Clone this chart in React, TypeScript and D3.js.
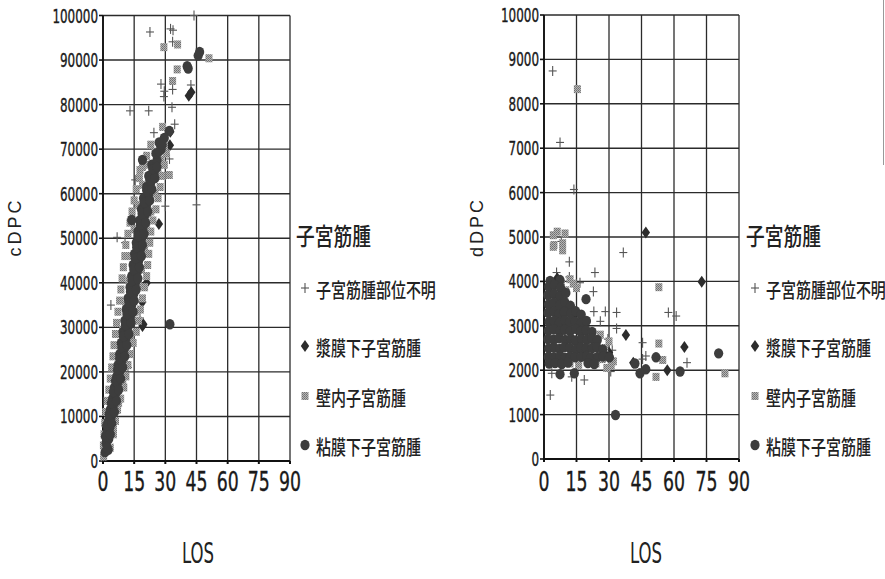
import React from "react";
import * as d3 from "d3";

// ---------------- DATA ----------------
const xTicks = [0, 15, 30, 45, 60, 75, 90];
const yTicksC = [0, 10000, 20000, 30000, 40000, 50000, 60000, 70000, 80000, 90000, 100000];
const yTicksD = [0, 1000, 2000, 3000, 4000, 5000, 6000, 7000, 8000, 9000, 10000];
const seriesNames = ["子宮筋腫部位不明", "漿膜下子宮筋腫", "壁内子宮筋腫", "粘膜下子宮筋腫"];
const legendTitle = "子宮筋腫";
const xTitle = "LOS";
const yTitleC = "cDPC";
const yTitleD = "dDPC";

// cDPC vs LOS  [LOS, cDPC]
const cUnknown = [
  [22.6, 96300], [33.7, 96700], [32.5, 97000], [33.5, 94100], [43.8, 100000], [27.9, 84600], [29.5, 83000],
  [29.3, 81800], [33.5, 83400], [42.3, 84400], [13, 78600], [22, 78600], [33.2, 79400], [24.5, 73700],
  [34.5, 75600], [32, 67800], [20.2, 68300], [15.5, 63100], [20.5, 62700], [30, 57200], [45, 57500],
  [6.8, 50200], [10.6, 49000], [3.8, 35000], [1.8, 2900], [11.4, 22300], [17.8, 32100],
  [1, 1500], [3.5, 9500], [6, 16500], [9, 24000], [11.5, 31000], [14, 37500], [16, 44000], [18.5, 49500],
  [21.5, 55000], [24, 59500], [12, 21000], [15, 32000],
];
const cSubserosal = [
  [41.3, 82000], [42.5, 82800], [26.9, 53200], [32.4, 73900], [32.2, 70900], [18.9, 35700], [19, 30300],
  [21, 40000], [19.4, 30700],
  [2.5, 6500], [5, 12000], [8, 19500], [10.5, 27000], [13, 34000], [15.5, 41500], [17.5, 47000],
  [19.5, 52000], [21, 57000], [23, 61500], [25, 66000], [7, 14500], [12, 30000], [16, 38500],
];
const cIntramural = [
  [29.3, 92900], [35.9, 93500], [35.7, 87900], [33.5, 85300], [51, 90400], [28.7, 75000], [29.5, 70500],
  [17.8, 65300], [31.9, 64200], [13.6, 54100], [25, 69400], [27.7, 67600],
  [0.3, 1000], [0.2, 3500], [0.5, 6000], [0.8, 8500], [1.3, 11000], [2, 13500], [2.8, 16000], [3.5, 18500],
  [4.2, 21000], [4.8, 23500], [5.3, 26000], [6, 28500], [6.5, 31000], [7.2, 33500], [8, 36000], [8.6, 38500],
  [9.2, 41000], [9.8, 43500], [10.5, 46000], [11, 48500], [12, 51000], [13, 53500], [14, 56000], [15, 58500],
  [16, 61000], [17.5, 63500], [19, 66000], [21, 68500], [23, 71000],
  [3.5, 3000], [5, 6000], [6, 9000], [7, 11500], [8.5, 14000], [10, 16500], [11, 19000], [12, 21500],
  [13, 24000], [14.5, 26500], [16, 29000], [17, 31500], [18, 34000], [19, 36500], [20, 39000], [21, 41500],
  [21.5, 44000], [22, 46500], [22.5, 49000], [23, 51500], [24, 54000], [25.5, 56500], [26.5, 59000],
  [27.5, 61500], [28.5, 64000], [29.5, 66500], [30.5, 69000],
  [2, 5000], [4, 11000], [6, 17000], [8, 23000], [9.5, 29500], [11, 35000], [12.5, 40500], [13.5, 46000],
  [15, 52000], [17, 57500], [19, 62000], [21.5, 66500], [5, 7500], [7.5, 13000], [9.5, 18000], [11, 24500],
  [13, 28000], [15.5, 33500], [17, 39500], [18.5, 43000], [20, 47500], [21, 52500], [23, 56000], [25, 60000],
  [26.5, 64500],
];
const cSubmucosal = [
  [45.8, 91000], [46.5, 91800], [41, 88100], [40.5, 88600], [19, 67600], [31.9, 74100], [24.5, 64600],
  [21, 60800], [19.7, 57500], [13.8, 54100], [32.2, 30700],
  [1, 2000], [2.5, 2500], [1.5, 4000], [2.8, 5000], [2, 6500], [3.3, 7500], [2.6, 9000], [4, 10000],
  [3.5, 11500], [5, 12500], [4.6, 14000], [6, 15000], [5.5, 16500], [7, 17500], [6.6, 19000], [8, 20000],
  [7.2, 21500], [9, 22500], [8, 24000], [10, 25000], [8.8, 26500], [11, 27500], [9.6, 29000], [12, 30000],
  [10.5, 31500], [13, 32500], [11.2, 34000], [13.8, 35000], [12, 36500], [14.8, 37500], [13, 39000],
  [15.6, 40000], [13.8, 41500], [16.5, 42500], [14.5, 44000], [17.2, 45000], [15.2, 46500], [18, 47500],
  [16, 49000], [18.6, 50000], [16.8, 51500], [19.3, 52500], [17.6, 54000], [20, 55000], [18.5, 56500],
  [21, 57500], [19.5, 59000], [22, 60000], [21, 61500], [23, 62500], [22, 64000], [24.5, 65000],
  [23.5, 66500], [26, 67500], [25.5, 69000], [28, 70000], [27, 71500], [29.5, 72500],
  [2, 3000], [1.2, 5500], [3.5, 6000], [1.8, 8000], [4.2, 8500], [3, 10500], [5.5, 11000], [4, 13000],
  [6.5, 13500], [5, 15500], [7.5, 16000], [6, 18000], [8.5, 18500], [7, 20500], [9.5, 21000], [8, 23000],
  [10.5, 23500], [9, 25500], [11.5, 26000], [9.8, 28000], [12.5, 28500], [10.8, 30500], [13.5, 31000],
  [11.5, 33000], [14.5, 33500], [12.5, 35500], [15, 36000], [13.2, 38000], [16, 38500], [14, 40500],
  [16.8, 41000], [14.8, 43000], [17.5, 43500], [15.5, 45500], [18.5, 46000], [16.2, 48000], [19, 48500],
  [17, 50500], [19.8, 51000], [18, 53000], [20.5, 53500], [18.8, 55500], [21.5, 56000], [20, 58000],
  [22.5, 58500], [21.5, 60500], [23.5, 61000], [22.8, 63000], [25, 63500], [24, 65500], [26, 66000],
  [27, 69500], [28.5, 71000],
];

// dDPC vs LOS  [LOS, dDPC]
const dUnknown = [
  [4, 8740], [7.4, 7130], [13.8, 6070], [36.6, 4650], [11.7, 4440], [23.5, 4200], [5.8, 4200], [11.7, 4100],
  [22.8, 3770], [16.6, 3970], [23, 3320], [28.3, 3320], [33.5, 3300], [33.5, 2940], [57.4, 3300], [61, 3220],
  [45.5, 2620], [47, 2320], [45.5, 2250], [66, 2170], [2.9, 1440], [18.6, 1780], [12.8, 1850], [30.8, 1970],
  [3.6, 1930], [29.5, 2700], [31.5, 2450], [26, 3100], [8, 4900],
];
const dSubserosal = [
  [47, 5100], [72.8, 3990], [37.8, 2790], [64.8, 2520], [56.9, 2000], [41.2, 2170], [6.1, 4070],
  [10, 3500], [14, 3250], [22, 2700], [30, 2400], [5, 3000], [18, 2400],
];
const dIntramural = [
  [15.4, 8330], [6.1, 5120], [4.3, 5040], [9.7, 5080], [8.6, 4860], [4.3, 4780], [4.6, 4820], [8.6, 4700],
  [53, 3870], [53, 2600], [54.8, 2230], [51.7, 1850], [83.5, 1930],
  [13.5, 3950], [12, 4050], [15, 3850], [8, 3950], [10, 3800], [12, 2150], [16, 2120], [20, 2180], [24, 2150],
  [27, 2250], [28, 2500], [30, 2650], [32, 2200], [31, 2100], [29, 2050], [26, 2800], [24, 2600],
];
const dSubmucosal = [
  [19.4, 3600], [51.7, 2290], [80.6, 2380], [62.8, 1970], [47, 2020], [44.3, 1930], [42, 2150], [33, 990],
  [7.4, 1910], [14, 1930], [2.8, 4010], [7.4, 4030],
  [2.2, 3880], [4.8, 3920], [7.6, 3860],
  [1.8, 3690], [4.6, 3720], [7.2, 3660], [10.1, 3740],
  [2.1, 3480], [4.4, 3520], [7.3, 3470], [9.6, 3530], [12.2, 3450],
  [1.9, 3290], [4.7, 3320], [6.8, 3260], [9.4, 3310], [12.3, 3280], [14.6, 3330], [17.2, 3250],
  [2.3, 3090], [4.5, 3110], [7.1, 3070], [9.7, 3120], [11.8, 3080], [14.4, 3100], [17.1, 3060], [19.6, 3110],
  [2.0, 2890], [4.6, 2920], [7.3, 2870], [9.5, 2910], [12.1, 2880], [14.7, 2930], [16.9, 2870], [19.4, 2900], [22.2, 2860],
  [1.8, 2700], [4.4, 2690], [7.0, 2720], [9.8, 2680], [12.4, 2710], [14.5, 2670], [17.3, 2700], [19.8, 2690], [22.1, 2720], [24.6, 2680],
  [2.2, 2490], [4.7, 2510], [7.2, 2480], [9.4, 2520], [11.9, 2500], [14.8, 2470], [17.0, 2510], [19.5, 2490], [22.3, 2500], [24.4, 2520], [27.1, 2460],
  [2.0, 2300], [4.5, 2290], [7.4, 2320], [9.7, 2280], [12.2, 2310], [14.3, 2290], [17.2, 2300], [19.7, 2320], [21.8, 2280], [24.7, 2300], [27.3, 2310], [30.2, 2290],
  [2.4, 2150], [5.1, 2160], [8.2, 2140], [11.1, 2170], [20.3, 2160], [23.2, 2140],
];

// ---------------- DRAWING ----------------
const GRID = "#2b2b2b";
const NARROW = "'Liberation Sans Narrow', 'DejaVu Sans Condensed', 'Arial Narrow', sans-serif";
const CJK = "'Noto Sans CJK JP', 'Noto Sans CJK SC', sans-serif";

type Pt = number[];

function Marker({ kind, x, y }: { kind: number; x: number; y: number }) {
  if (kind === 0)
    return (
      <g stroke="#555" strokeWidth={1.1}>
        <line x1={x - 4} x2={x + 4} y1={y} y2={y} />
        <line x1={x} x2={x} y1={y - 5} y2={y + 5} />
      </g>
    );
  if (kind === 1)
    return <polygon points={`${x},${y - 6} ${x + 4.2},${y} ${x},${y + 6} ${x - 4.2},${y}`} fill="#2c2c2c" />;
  if (kind === 2) return <rect x={x - 3.5} y={y - 4} width={7} height={8} fill="url(#hatch)" />;
  return <ellipse cx={x} cy={y} rx={4.6} ry={5.2} fill="#3d3d3d" />;
}

function Panel({
  x0, x1, y0, y1, yMax, yTicks, series, yTitle, titleX, labelRight, losX, legendX,
}: {
  x0: number; x1: number; y0: number; y1: number; yMax: number; yTicks: number[]; series: Pt[][];
  yTitle: string; titleX: number; labelRight: number; losX: number; legendX: number;
}) {
  const x = d3.scaleLinear().domain([0, 90]).range([x0, x1]);
  const y = d3.scaleLinear().domain([0, yMax]).range([y0, y1]);
  const legendY = [291, 349, 399, 448];
  return (
    <g>
      {/* grid */}
      {yTicks.map((t) => (
        <line key={"h" + t} x1={x0} x2={x1} y1={y(t)} y2={y(t)} stroke={GRID} strokeWidth={1.4} />
      ))}
      {xTicks.map((t) => (
        <line key={"v" + t} x1={x(t)} x2={x(t)} y1={y0} y2={y1} stroke={GRID} strokeWidth={1.3} />
      ))}
      {/* axes */}
      <line x1={x0} x2={x0} y1={y0 + 1} y2={y1} stroke="#111" strokeWidth={1.8} />
      <line x1={x0} x2={x1} y1={y0} y2={y0} stroke="#111" strokeWidth={1.8} />
      {yTicks.map((t) => (
        <line key={"yt" + t} x1={x0 - 4} x2={x0} y1={y(t)} y2={y(t)} stroke="#111" strokeWidth={1.6} />
      ))}
      {xTicks.map((t) => (
        <line key={"xt" + t} x1={x(t)} x2={x(t)} y1={y0} y2={y0 + 3} stroke="#111" strokeWidth={2} />
      ))}
      {/* tick labels */}
      {yTicks.map((t) => {
        const s = String(t);
        return (
          <text key={"yl" + t} x={labelRight} y={y(t) + 7} textAnchor="end" fontFamily={NARROW} fontSize={19}
            fill="#1a1a1a" stroke="#1a1a1a" strokeWidth={0.35}
            textLength={s.length * 7.6} lengthAdjust="spacingAndGlyphs">{s}</text>
        );
      })}
      {xTicks.map((t) => {
        const s = String(t);
        return (
          <text key={"xl" + t} x={x(t)} y={491} textAnchor="middle" fontFamily={NARROW} fontSize={27}
            fill="#1a1a1a" stroke="#1a1a1a" strokeWidth={0.35}
            textLength={s.length * 11} lengthAdjust="spacingAndGlyphs">{s}</text>
        );
      })}
      {/* points */}
      {series.map((pts, k) => (
        <g key={"s" + k}>
          {pts.map((p, i) => (
            <Marker key={i} kind={k} x={x(p[0])} y={y(p[1])} />
          ))}
        </g>
      ))}
      {/* y title */}
      <text transform={`translate(${titleX},227) rotate(-90)`} textAnchor="middle"
        fontFamily="'Liberation Sans', Arial, sans-serif" fontSize={18} letterSpacing={3} fill="#222">{yTitle}</text>
      {/* x title */}
      <text x={losX} y={563} textAnchor="middle" fontFamily={NARROW} fontSize={28} fill="#222"
        textLength={32} lengthAdjust="spacingAndGlyphs">{xTitle}</text>
      {/* legend */}
      <text transform={`translate(${legendX - 4},245) scale(0.78,1)`} fontFamily={CJK} fontWeight={500}
        fontSize={24} fill="#222">{legendTitle}</text>
      {seriesNames.map((n, k) => (
        <g key={"lg" + k}>
          <Marker kind={k} x={legendX + 5} y={legendY[k] - 3} />
          <text transform={`translate(${legendX + 16},${legendY[k] + 7}) scale(0.75,1)`} fontFamily={CJK}
            fontWeight={500} fontSize={20} fill="#222">{n}</text>
        </g>
      ))}
    </g>
  );
}

export default function App() {
  return (
    <svg width={885} height={579} style={{ position: "absolute", left: 0, top: 0, background: "#fff" }}>
      <defs>
        <pattern id="hatch" width={2} height={2} patternUnits="userSpaceOnUse">
          <rect width={2} height={2} fill="#b5b5b5" />
          <rect width={1} height={1} fill="#6e6e6e" />
          <rect x={1} y={1} width={1} height={1} fill="#7d7d7d" />
        </pattern>
      </defs>
      <rect width={885} height={579} fill="#fff" />
      <Panel x0={103} x1={290} y0={461} y1={15.5} yMax={100000} yTicks={yTicksC}
        series={[cUnknown, cSubserosal, cIntramural, cSubmucosal]} yTitle={yTitleC} titleX={21}
        labelRight={98} losX={198} legendX={300} />
      <Panel x0={544} x1={739} y0={459} y1={15} yMax={10000} yTicks={yTicksD}
        series={[dUnknown, dSubserosal, dIntramural, dSubmucosal]} yTitle={yTitleD} titleX={483}
        labelRight={539} losX={646} legendX={750} />
      <line x1={883.5} x2={883.5} y1={0} y2={165} stroke="#999" strokeWidth={1} />
    </svg>
  );
}
